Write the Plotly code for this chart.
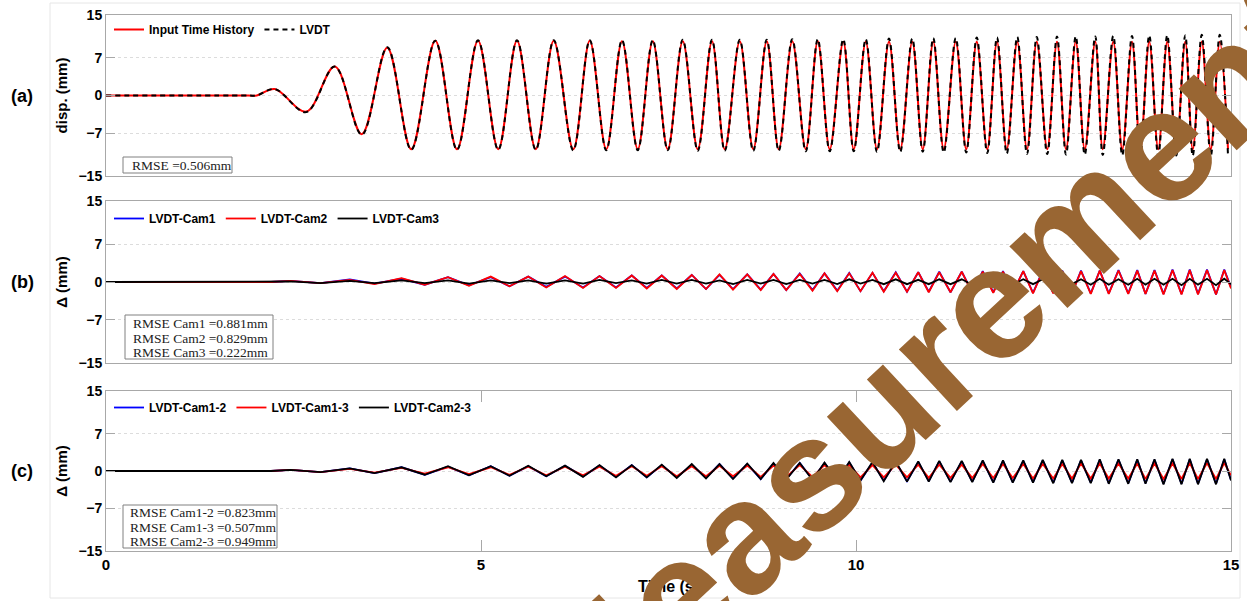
import plotly.graph_objects as go
from plotly.subplots import make_subplots

# ---------------- data ----------------
# panel (a): extrema of the sine sweep (time in s, displacement in mm)
t_a = [0, 1.9, 2.01, 2.25, 2.67, 3.05, 3.41, 3.75, 4.07, 4.39, 4.68,
       4.96, 5.23, 5.48, 5.73, 5.97, 6.23, 6.45, 6.67, 6.88, 7.09,
       7.29, 7.49, 7.69, 7.89, 8.08, 8.25, 8.45, 8.63, 8.81, 8.97,
       9.15, 9.33, 9.49, 9.65, 9.83, 9.97, 10.13, 10.28, 10.44, 10.59,
       10.75, 10.89, 11.03, 11.17, 11.33, 11.47, 11.61, 11.75, 11.88, 12.01,
       12.15, 12.28, 12.41, 12.55, 12.68, 12.80, 12.93, 13.05, 13.19, 13.29,
       13.43, 13.55, 13.68, 13.79, 13.91, 14.03, 14.15, 14.27, 14.39, 14.49,
       14.61, 14.73, 14.85, 14.96]
input_th = [0, 0, 0, 1.2, -3.0, 5.4, -7.2, 8.9, -10.0, 10.2, -10.0,
            10.2, -10.0, 10.2, -10.0, 10.2, -10.0, 10.2, -10.0, 10.1, -10.0,
            10.1, -10.0, 10.1, -10.0, 10.1, -10.0, 10.1, -10.0, 10.1, -10.0,
            10.1, -10.0, 10.1, -10.0, 10.0, -10.0, 10.0, -10.0, 10.0, -10.0,
            10.0, -10.0, 10.0, -10.0, 10.0, -10.0, 10.0, -10.0, 10.0, -10.0,
            10.0, -10.0, 10.0, -10.0, 10.0, -10.0, 10.0, -10.0, 10.0, -10.0,
            10.0, -10.0, 10.0, -10.0, 10.0, -10.0, 10.0, -10.0, 10.0, -10.0,
            10.0, -10.0, 10.0, -10.0]
lvdt = [0, 0, 0, 1.2, -3.1, 5.4, -7.3, 9.0, -10.1, 10.2, -10.1,
        10.3, -10.1, 10.3, -10.1, 10.3, -10.2, 10.3, -10.2, 10.3, -10.2,
        10.3, -10.2, 10.4, -10.3, 10.4, -10.3, 10.4, -10.3, 10.4, -10.3,
        10.5, -10.4, 10.5, -10.4, 10.5, -10.4, 10.5, -10.5, 10.6, -10.5,
        10.6, -10.5, 10.7, -10.6, 10.7, -10.6, 10.8, -10.7, 10.8, -10.8,
        10.9, -10.9, 10.9, -10.9, 11.0, -11.0, 11.0, -11.0, 11.0, -11.1,
        11.1, -11.1, 11.1, -11.1, 11.2, -11.2, 11.2, -11.2, 11.2, -11.2,
        11.3, -11.2, 11.3, -11.2]

# panels (b), (c): extrema of the difference signals (time in s, mm)
t_d = [0, 2.2,
       2.46, 2.86, 3.25, 3.58, 3.94, 4.25, 4.56, 4.84, 5.13, 5.38,
       5.63, 5.87, 6.12, 6.36, 6.58, 6.80, 7.01, 7.21, 7.41, 7.61,
       7.81, 8.00, 8.18, 8.36, 8.55, 8.73, 8.90, 9.07, 9.25, 9.42,
       9.58, 9.75, 9.91, 10.06, 10.22, 10.37, 10.53, 10.68, 10.83, 10.97,
       11.11, 11.26, 11.41, 11.55, 11.69, 11.83, 11.96, 12.09, 12.23, 12.36,
       12.49, 12.63, 12.75, 12.88, 13.00, 13.13, 13.25, 13.37, 13.50, 13.63,
       13.75, 13.86, 13.98, 14.10, 14.22, 14.34, 14.45, 14.56, 14.68, 14.80,
       14.91, 15.0]
lvdt_cam1 = [0, 0,
             0.2, -0.2, 0.5, -0.3, 0.6, -0.5, 0.9, -0.6, 0.9, -0.8,
             1.0, -0.9, 1.0, -1.0, 1.1, -1.0, 1.2, -1.1, 1.2, -1.2,
             1.3, -1.3, 1.3, -1.3, 1.4, -1.4, 1.5, -1.5, 1.6, -1.5,
             1.6, -1.6, 1.7, -1.7, 1.7, -1.7, 1.8, -1.8, 1.8, -1.8,
             1.9, -1.9, 1.9, -1.9, 2.0, -1.9, 2.0, -2.0, 2.0, -2.0,
             2.1, -2.0, 2.1, -2.1, 2.1, -2.1, 2.1, -2.1, 2.2, -2.1,
             2.2, -2.2, 2.2, -2.2, 2.3, -2.2, 2.3, -2.2, 2.3, -2.3,
             2.3, -1.0]
lvdt_cam2 = [0, 0,
             0.2, -0.2, 0.4, -0.4, 0.7, -0.5, 0.9, -0.7, 1.0, -0.8,
             1.0, -1.0, 1.1, -1.1, 1.1, -1.1, 1.2, -1.2, 1.2, -1.3,
             1.3, -1.3, 1.4, -1.4, 1.4, -1.5, 1.5, -1.5, 1.5, -1.6,
             1.6, -1.7, 1.6, -1.7, 1.7, -1.8, 1.7, -1.8, 1.8, -1.9,
             1.8, -1.9, 1.9, -2.0, 1.9, -2.0, 1.9, -2.0, 2.0, -2.1,
             2.0, -2.1, 2.0, -2.1, 2.0, -2.2, 2.1, -2.2, 2.1, -2.2,
             2.1, -2.2, 2.1, -2.3, 2.2, -2.3, 2.2, -2.3, 2.2, -2.3,
             2.2, -1.2]
lvdt_cam3 = [0, 0,
             0.1, -0.2, 0.2, -0.2, 0.3, -0.2, 0.3, -0.3, 0.3, -0.2,
             0.3, -0.3, 0.3, -0.3, 0.4, -0.2, 0.3, -0.3, 0.4, -0.3,
             0.4, -0.3, 0.3, -0.4, 0.4, -0.3, 0.4, -0.4, 0.4, -0.3,
             0.4, -0.4, 0.5, -0.3, 0.4, -0.4, 0.5, -0.4, 0.4, -0.4,
             0.5, -0.4, 0.5, -0.5, 0.4, -0.4, 0.5, -0.5, 0.5, -0.4,
             0.5, -0.5, 0.6, -0.4, 0.5, -0.5, 0.6, -0.5, 0.5, -0.5,
             0.6, -0.5, 0.6, -0.5, 0.6, -0.6, 0.6, -0.5, 0.6, -0.6,
             0.6, -0.4]
lvdt_cam12 = [0, 0,
              0.2, -0.2, 0.5, -0.4, 0.7, -0.7, 0.8, -0.8, 0.9, -0.9,
              0.9, -1.0, 1.0, -1.0, 1.0, -1.1, 1.1, -1.2, 1.1, -1.2,
              1.2, -1.3, 1.3, -1.4, 1.3, -1.5, 1.4, -1.5, 1.5, -1.6,
              1.5, -1.7, 1.6, -1.8, 1.6, -1.8, 1.7, -1.9, 1.7, -1.9,
              1.8, -2.0, 1.8, -2.0, 1.9, -2.1, 1.9, -2.1, 1.9, -2.1,
              2.0, -2.2, 2.0, -2.2, 2.0, -2.2, 2.1, -2.3, 2.1, -2.3,
              2.1, -2.3, 2.1, -2.4, 2.2, -2.4, 2.2, -2.4, 2.2, -2.4,
              2.2, -1.7]
lvdt_cam13 = [0, 0,
              0.2, -0.2, 0.4, -0.3, 0.6, -0.5, 0.7, -0.6, 0.7, -0.7,
              0.8, -0.8, 0.8, -0.8, 0.8, -0.9, 0.9, -0.9, 0.9, -1.0,
              0.9, -1.0, 1.0, -1.0, 1.0, -1.1, 1.0, -1.1, 1.1, -1.1,
              1.1, -1.2, 1.1, -1.2, 1.1, -1.2, 1.2, -1.2, 1.2, -1.3,
              1.2, -1.3, 1.2, -1.3, 1.3, -1.3, 1.3, -1.3, 1.3, -1.4,
              1.3, -1.4, 1.3, -1.4, 1.4, -1.4, 1.4, -1.4, 1.4, -1.4,
              1.4, -1.5, 1.4, -1.5, 1.4, -1.5, 1.5, -1.5, 1.5, -1.5,
              1.5, -0.8]
lvdt_cam23 = [0, 0,
              0.2, -0.2, 0.5, -0.4, 0.7, -0.7, 0.9, -0.8, 0.9, -0.9,
              1.0, -1.0, 1.0, -1.1, 1.1, -1.2, 1.1, -1.2, 1.2, -1.3,
              1.3, -1.4, 1.3, -1.5, 1.4, -1.5, 1.5, -1.6, 1.5, -1.7,
              1.6, -1.8, 1.7, -1.8, 1.7, -1.9, 1.8, -2.0, 1.8, -2.0,
              1.9, -2.1, 1.9, -2.1, 2.0, -2.2, 2.0, -2.2, 2.0, -2.2,
              2.1, -2.3, 2.1, -2.3, 2.1, -2.3, 2.2, -2.4, 2.2, -2.4,
              2.2, -2.4, 2.2, -2.5, 2.3, -2.5, 2.3, -2.5, 2.3, -2.5,
              2.3, -1.8]

x_ticks = [0, 5, 10, 15]
y_ticks = [-15, -7, 0, 7, 15]
rmse_a = ["RMSE =0.506mm"]
rmse_b = ["RMSE Cam1 =0.881mm", "RMSE Cam2 =0.829mm", "RMSE Cam3 =0.222mm"]
rmse_c = ["RMSE Cam1-2 =0.823mm", "RMSE Cam1-3 =0.507mm", "RMSE Cam2-3 =0.949mm"]

for arr in (input_th, lvdt):
    assert len(arr) == len(t_a)
for arr in (lvdt_cam1, lvdt_cam2, lvdt_cam3, lvdt_cam12, lvdt_cam13, lvdt_cam23):
    assert len(arr) == len(t_d), len(arr)

# ---------------- figure ----------------
W, H = 1247, 601
ML, MR, MT, MB = 106, 16, 15, 50
PW, PH = W - ML - MR, H - MT - MB


def px(xp):  # pixel x -> paper x
    return (xp - ML) / PW


def py(yp):  # pixel y -> paper y
    return (H - MB - yp) / PH


SANS = "Liberation Sans, Arial, Helvetica, sans-serif"
SERIF = "Liberation Serif, Times New Roman, serif"
RED, BLUE, BLACK = "#ff0000", "#0000ff", "#000000"

fig = make_subplots(rows=3, cols=1)

fig.add_trace(go.Scatter(x=t_a, y=input_th, mode="lines", name="Input Time History",
                         line=dict(color=RED, width=2, shape="spline", smoothing=1),
                         legend="legend"), row=1, col=1)
fig.add_trace(go.Scatter(x=t_a, y=lvdt, mode="lines", name="LVDT",
                         line=dict(color=BLACK, width=2, dash="5px,4px", shape="spline", smoothing=1),
                         legend="legend"), row=1, col=1)

for name, vals, col in (("LVDT-Cam1", lvdt_cam1, BLUE), ("LVDT-Cam2", lvdt_cam2, RED),
                        ("LVDT-Cam3", lvdt_cam3, BLACK)):
    fig.add_trace(go.Scatter(x=t_d, y=vals, mode="lines", name=name,
                             line=dict(color=col, width=1.8), legend="legend2"), row=2, col=1)

for name, vals, col in (("LVDT-Cam1-2", lvdt_cam12, BLUE), ("LVDT-Cam1-3", lvdt_cam13, RED),
                        ("LVDT-Cam2-3", lvdt_cam23, BLACK)):
    fig.add_trace(go.Scatter(x=t_d, y=vals, mode="lines", name=name,
                             line=dict(color=col, width=1.8), legend="legend3"), row=3, col=1)

domains = [[py(176), py(15)], [py(363), py(201)], [py(551), py(391)]]
AX = "#a8a8a8"
for i in range(3):
    last = i == 2
    fig.update_xaxes(row=i + 1, col=1, range=[0, 15], showline=True, linecolor=AX, linewidth=1,
                     mirror="allticks" if last else True, automargin=False,
                     ticks="inside" if last else "", ticklen=11, tickcolor=AX,
                     tickvals=x_ticks, showticklabels=last, showgrid=False, zeroline=False,
                     tickfont=dict(family=SANS, size=15, color="black", weight="bold"))
    fig.update_yaxes(row=i + 1, col=1, range=[-15, 15], domain=domains[i], showline=True,
                     linecolor=AX, linewidth=1, mirror="allticks", ticks="inside", ticklen=9,
                     tickcolor=AX, tickvals=y_ticks, showgrid=True, gridcolor="#dcdcdc",
                     griddash="dot", gridwidth=1, zeroline=False, automargin=False,
                     tickfont=dict(family=SANS, size=14, color="black", weight="bold"),
                     title=dict(text="disp. (mm)" if i == 0 else "Δ (mm)", standoff=7,
                                font=dict(family=SANS, size=15, color="black", weight="bold")))

fig.update_xaxes(row=3, col=1, title=dict(text="Time (s)", standoff=8,
                 font=dict(family=SANS, size=16, color="black", weight="bold")))

leg = dict(orientation="h", xanchor="left", yanchor="top", bgcolor="rgba(0,0,0,0)",
           font=dict(family=SANS, size=12, color="black", weight="bold"),
           itemwidth=30, tracegroupgap=0)
fig.update_layout(
    width=W, height=H, margin=dict(l=ML, r=MR, t=MT, b=MB, autoexpand=False),
    paper_bgcolor="white", plot_bgcolor="white", showlegend=True,
    legend=dict(leg, x=px(109), y=py(15)),
    legend2=dict(leg, x=px(109), y=py(204)),
    legend3=dict(leg, x=px(109), y=py(393)),
)

# RMSE boxes: frame + one text line each
boxes = [((123, 232, 157, 173), rmse_a, 130, [165]),
         ((125, 273, 315, 359), rmse_b, 131, [323, 338, 352]),
         ((123, 277, 505, 548), rmse_c, 128, [512, 527, 541])]
for (x0, x1, y0, y1), lines, xt, ys in boxes:
    fig.add_shape(type="rect", xref="paper", yref="paper", x0=px(x0), x1=px(x1),
                  y0=py(y1), y1=py(y0), line=dict(color="#808080", width=1),
                  fillcolor="white", layer="above")
    for txt, yl in zip(lines, ys):
        fig.add_annotation(text=txt, xref="paper", yref="paper", x=px(xt), y=py(yl),
                           xanchor="left", yanchor="middle", showarrow=False,
                           font=dict(family=SERIF, size=13.5, color="#222222"))

# panel labels
for lab, yref in (("(a)", "y"), ("(b)", "y2"), ("(c)", "y3")):
    fig.add_annotation(text=lab, xref="paper", yref=yref, x=px(22), y=0, xanchor="center",
                       yanchor="middle", showarrow=False,
                       font=dict(family=SANS, size=18, color="black", weight="bold"))

# faint outer frame of the exported figure
fig.add_shape(type="rect", xref="paper", yref="paper", x0=px(50), x1=px(1240), y0=py(598),
              y1=py(3), line=dict(color="#e6e6e6", width=1), layer="below")

# watermark
fig.add_annotation(text="Measurement", xref="paper", yref="paper", x=px(923), y=py(366),
                   xanchor="center", yanchor="middle", showarrow=False, textangle=-43,
                   font=dict(family=SANS, size=160, color="#996633", weight="bold"))

fig.write_html("out.html", config={"displayModeBar": False},
               post_script="document.body.style.margin='0';document.body.style.overflow='hidden';")
